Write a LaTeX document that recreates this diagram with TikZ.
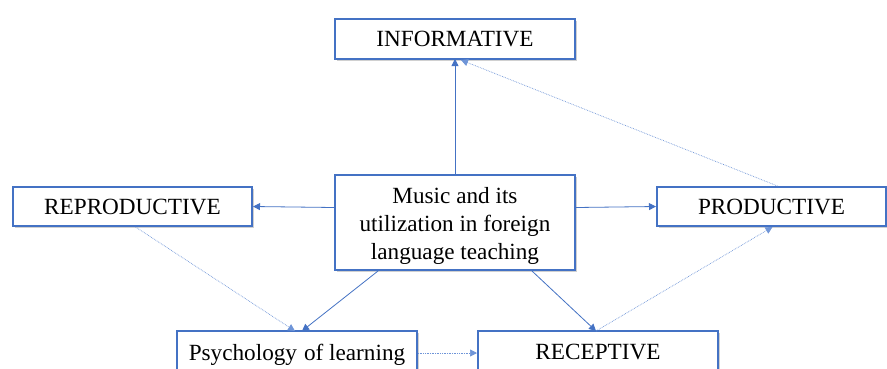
\documentclass[tikz,border=0pt]{standalone}
\usepackage{fontspec}
\setmainfont{Liberation Serif}
\usetikzlibrary{arrows.meta,shadows}
\definecolor{boxblue}{HTML}{4472C4}
\definecolor{lineblue}{HTML}{6F95D8}
\tikzset{
  x=1pt, y=-1pt,
  boxtext/.style={font=\fontsize{23.2}{28}\selectfont, align=center},
  conceptbox/.style={draw=boxblue, line width=2pt, fill=white, inner sep=0pt, boxtext,
    drop shadow={shadow xshift=2pt, shadow yshift=-2pt, opacity=0.3, fill=black!60}},
  link/.style={draw=boxblue, line width=0.8pt, -{Triangle[width=7pt,length=7pt]}},
  weaklink/.style={draw=lineblue, line width=0.7pt, densely dotted, -{Triangle[width=7pt,length=7pt]}}
}
\begin{document}
\begin{tikzpicture}
\path[use as bounding box] (0,0) rectangle (887,368);
\fill[white] (0,0) rectangle (887,368);

\node[conceptbox, minimum width=240pt, minimum height=40pt] (info) at (455,39) {INFORMATIVE};
\node[conceptbox, minimum width=239pt, minimum height=39pt] (repro) at (132.5,206.5) {REPRODUCTIVE};
\node[conceptbox, minimum width=229pt, minimum height=39pt] (prod) at (771.5,206.5) {PRODUCTIVE};
\node[conceptbox, minimum width=240pt, minimum height=95pt] (music) at (455,222.5) {};
\node[boxtext] (musictext) at (455,225.5) {Music and its\\utilization in foreign\\language teaching};
\node[conceptbox, minimum width=240pt, minimum height=42pt, text depth=0pt] (psych) at (297,352) {Psychology\hspace{7pt}of learning};
\node[conceptbox, minimum width=240pt, minimum height=42pt] (recep) at (598,352) {RECEPTIVE};

\coordinate (infoB) at (455,59);
\coordinate (infoB2) at (461,60);
\coordinate (psychT1) at (295,331);
\coordinate (psychT2) at (302,331);
\coordinate (recepT) at (596,331);

\draw[link] (music.north) -- (infoB);
\draw[weaklink] (prod.north) ++(6,0) -- (infoB2);
\draw[link] (music.west) ++(0,-15) -- (repro.east);
\draw[link] (music.east) ++(0,-15) -- (prod.west);
\draw[weaklink] (repro.south) ++(3,0) -- (psychT1);
\draw[link] (music.south) ++(-77,0) -- (psychT2);
\draw[link] (music.south) ++(77,0) -- (recepT);
\draw[weaklink] (recepT) -- ([xshift=1pt]prod.south);
\draw[weaklink] ([yshift=-1pt]psych.east) -- ([yshift=-1pt]recep.west);
\end{tikzpicture}
\end{document}
